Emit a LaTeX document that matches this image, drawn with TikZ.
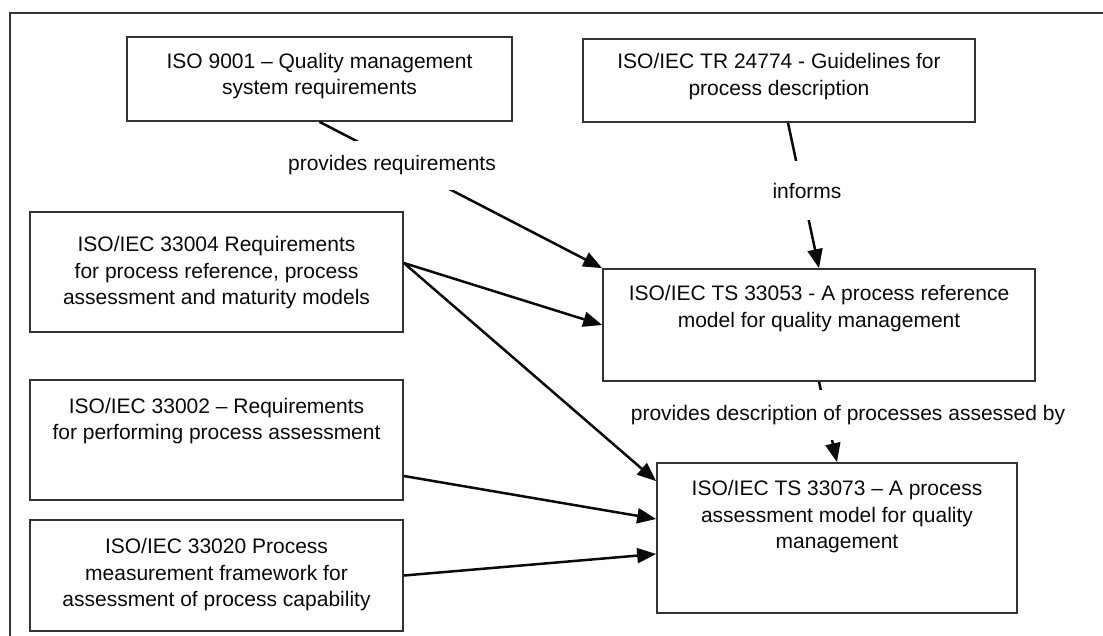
\documentclass[tikz,border=0pt]{standalone}
\usepackage{fontspec}
\setmainfont{Liberation Sans}
\usetikzlibrary{arrows.meta,calc}
\definecolor{edgegray}{HTML}{333333}
\definecolor{inkblack}{HTML}{0A0A0A}
\begin{document}
\begin{tikzpicture}[x=1pt,y=-1pt,
  box/.style={draw=edgegray, line width=1.7pt, rectangle, inner sep=0pt},
  txt/.style={font=\fontsize{21}{26.5}\selectfont, align=center, text=inkblack, inner sep=0pt},
  lbl/.style={font=\fontsize{21}{26.5}\selectfont, fill=white, text=inkblack, inner xsep=2pt, inner ysep=0pt},
  arr/.style={draw=inkblack, line width=2.5pt, -{Triangle[length=19pt,width=15pt]}},
  frame/.style={draw=edgegray, line width=1.6pt}]
\useasboundingbox (0,0) rectangle (1103,635);
\clip (0,0) rectangle (1103,635);
\fill[white] (0,0) rectangle (1103,635);
\draw[frame] (1110,13) -- (10,13) -- (10,645);

% boxes
\node[box, minimum width=385pt, minimum height=84pt] (iso9001) at (319.5,79) {};
\node[box, minimum width=392pt, minimum height=83pt] (tr) at (779,80.5) {};
\node[box, minimum width=373pt, minimum height=120pt] (r4) at (216.5,272) {};
\node[box, minimum width=373pt, minimum height=120pt] (r2) at (216.5,440) {};
\node[box, minimum width=373pt, minimum height=111pt] (r20) at (216.5,575.5) {};
\node[box, minimum width=432pt, minimum height=112pt] (ts53) at (819,325) {};
\node[box, minimum width=360pt, minimum height=150pt] (ts73) at (837,538) {};

% box texts
\node[txt] (iso9001t) at (319.5,76) {ISO 9001 – Quality management\\system requirements};
\node[txt] (trt) at (779,76.5) {ISO/IEC TR 24774 - Guidelines for\\process description};
\node[txt] (r4t) at (216.5,273) {ISO/IEC 33004 Requirements\\for process reference, process\\assessment and maturity models};
\node[txt] (r2t) at (216.5,421) {ISO/IEC 33002 – Requirements\\for performing process assessment};
\node[txt] (r20t) at (216.5,575) {ISO/IEC 33020 Process\\measurement framework for\\assessment of process capability};
\node[txt] (ts53t) at (819,308.5) {ISO/IEC TS 33053 - A process reference\\model for quality management};
\node[txt] (ts73t) at (837,517) {ISO/IEC TS 33073 – A process\\assessment model for quality\\management};

% connectors
\draw[arr] (iso9001.south) -- (ts53.north west);
\draw[arr] ($(tr.south)+(9,0)$) -- (ts53.north);
\draw[arr] ($(r4.east)+(0,-9)$) -- (ts53.west);
\draw[arr] ($(r4.east)+(0,-9)$) -- ($(ts73.north west)+(0,19)$);
\draw[arr] ($(r2.east)+(0,36)$) -- ($(ts73.west)+(0,-19)$);
\draw[arr] (r20.east) -- ($(ts73.west)+(0,16)$);
\draw[arr] (ts53.south) -- (ts73.north);

% connector labels
\node[lbl, minimum height=49pt] (lreq) at (392,165.5) {provides requirements};
\node[lbl, minimum height=59pt] (linf) at (807,190.5) {informs};
\node[lbl, minimum height=50pt] (ldesc) at (848,415) {provides description of processes assessed by};
\end{tikzpicture}
\end{document}
